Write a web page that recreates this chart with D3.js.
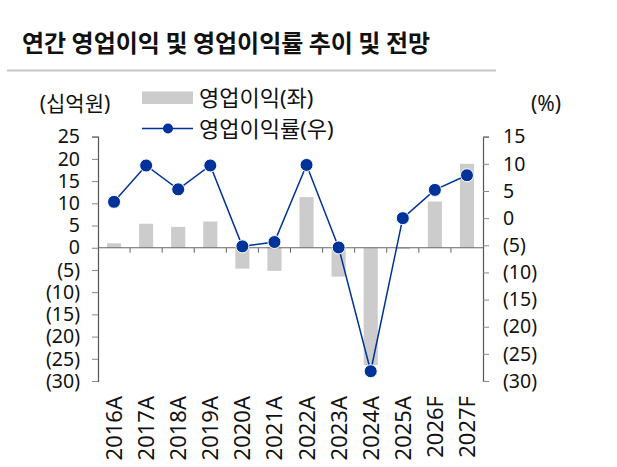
<!DOCTYPE html>
<html>
<head>
<meta charset="utf-8">
<script src="https://cdn.jsdelivr.net/npm/d3@7"></script>
<style>
  body { margin: 0; background: #fff; }
  text { font-family: "Noto Sans", "Noto Sans CJK KR", sans-serif; fill: #111; }
</style>
</head>
<body>
<svg id="chart" width="617" height="467"></svg>
<script>
// data
const years = ["2016A", "2017A", "2018A", "2019A", "2020A", "2021A", "2022A", "2023A", "2024A", "2025A", "2026F", "2027F"];
const opProfit = [1.0, 5.4, 4.7, 5.9, -4.7, -5.2, 11.4, -6.5, -26.4, -0.3, 10.4, 18.9];   // 십억원, left
const opMargin = [3.0, 9.7, 5.3, 9.7, -5.2, -4.4, 9.8, -5.4, -28.2, 0.0, 5.2, 7.9];       // %, right
const leftTicks = [25, 20, 15, 10, 5, 0, -5, -10, -15, -20, -25, -30];
const rightTicks = [15, 10, 5, 0, -5, -10, -15, -20, -25, -30];

const width = 617, height = 467;
const svg = d3.select("#chart");

const x0 = 98, x1 = 483, yTop = 136.7, yBot = 381;
const blue = "#003399";
const fmt = v => v < 0 ? `(${-v})` : `${v}`;

const x = d3.scaleBand()
    .domain(years)
    .range([x0, x1])
    .paddingInner(0.56)
    .paddingOuter(0.28);

const yL = d3.scaleLinear().domain([-30, 25]).range([yBot, yTop]);
const yR = d3.scaleLinear().domain([-30, 15]).range([yBot, yTop]);

// title
svg.append("text")
    .attr("x", 22)
    .attr("y", 52)
    .style("font-family", "'Noto Sans CJK KR', sans-serif")
    .style("font-weight", "bold")
    .style("font-size", "24px")
    .text("연간 영업이익 및 영업이익률 추이 및 전망");

svg.append("line")
    .attr("x1", 7).attr("x2", 496)
    .attr("y1", 70.5).attr("y2", 70.5)
    .attr("stroke", "#c8c8c8")
    .attr("stroke-width", 2);

// unit labels
svg.append("text")
    .attr("x", 75).attr("y", 111)
    .attr("text-anchor", "middle")
    .style("font-size", "21px")
    .text("(십억원)");

svg.append("text")
    .attr("x", 546).attr("y", 111)
    .attr("text-anchor", "middle")
    .style("font-size", "21px")
    .text("(%)");

// bars
svg.append("g")
    .selectAll("rect")
    .data(years)
    .join("rect")
    .attr("x", d => x(d))
    .attr("width", x.bandwidth())
    .attr("y", (d, i) => Math.min(yL(0), yL(opProfit[i])))
    .attr("height", (d, i) => Math.abs(yL(opProfit[i]) - yL(0)))
    .attr("fill", "#cccccc");

// left axis
const axisL = d3.axisLeft(yL).tickValues(leftTicks).tickFormat(fmt).tickSize(6).tickPadding(12);
const gL = svg.append("g").attr("transform", `translate(${x0},0)`).call(axisL);

// right axis
const axisR = d3.axisRight(yR).tickValues(rightTicks).tickFormat(fmt).tickSize(6).tickPadding(14);
const gR = svg.append("g").attr("transform", `translate(${x1},0)`).call(axisR);

[gL, gR].forEach(g => {
    g.select(".domain").attr("stroke", "#555").attr("stroke-width", 1.2);
    g.selectAll(".tick line").attr("stroke", "#888");
    g.selectAll(".tick text")
        .style("font-family", "'Noto Sans', sans-serif")
        .style("font-size", "19.5px")
        .attr("fill", "#111");
});

// category axis along zero
const step = x.step();
svg.append("line")
    .attr("x1", x0).attr("x2", x1)
    .attr("y1", yL(0)).attr("y2", yL(0))
    .attr("stroke", "#666")
    .attr("stroke-width", 1.2);

svg.append("g")
    .selectAll("line")
    .data(d3.range(1, years.length))
    .join("line")
    .attr("x1", i => x0 + i * step)
    .attr("x2", i => x0 + i * step)
    .attr("y1", yL(0))
    .attr("y2", yL(0) + 5)
    .attr("stroke", "#666");

svg.append("g")
    .selectAll("text")
    .data(years)
    .join("text")
    .attr("transform", d => `translate(${x(d) + x.bandwidth() / 2 + 8},396) rotate(-90)`)
    .attr("text-anchor", "end")
    .style("font-size", "22px")
    .text(d => d);

// line
const line = d3.line()
    .x((d, i) => x(years[i]) + x.bandwidth() / 2)
    .y(d => yR(d));

svg.append("path")
    .datum(opMargin)
    .attr("d", line)
    .attr("fill", "none")
    .attr("stroke", blue)
    .attr("stroke-width", 1.5);

svg.append("g")
    .selectAll("circle")
    .data(opMargin)
    .join("circle")
    .attr("cx", (d, i) => x(years[i]) + x.bandwidth() / 2)
    .attr("cy", d => yR(d))
    .attr("r", 6.5)
    .attr("fill", blue)
    .attr("stroke", "#fff")
    .attr("stroke-width", 1);

// legend
const legend = svg.append("g");
legend.append("rect")
    .attr("x", 142).attr("y", 91.5)
    .attr("width", 51).attr("height", 12.5)
    .attr("fill", "#cccccc");
legend.append("text")
    .attr("x", 199).attr("y", 106)
    .style("font-size", "22px")
    .text("영업이익(좌)");

legend.append("line")
    .attr("x1", 142).attr("x2", 193)
    .attr("y1", 128.5).attr("y2", 128.5)
    .attr("stroke", blue)
    .attr("stroke-width", 1.5);
legend.append("circle")
    .attr("cx", 168).attr("cy", 128.5)
    .attr("r", 5)
    .attr("fill", blue);
legend.append("text")
    .attr("x", 199).attr("y", 137)
    .style("font-size", "22px")
    .text("영업이익률(우)");
</script>
</body>
</html>
